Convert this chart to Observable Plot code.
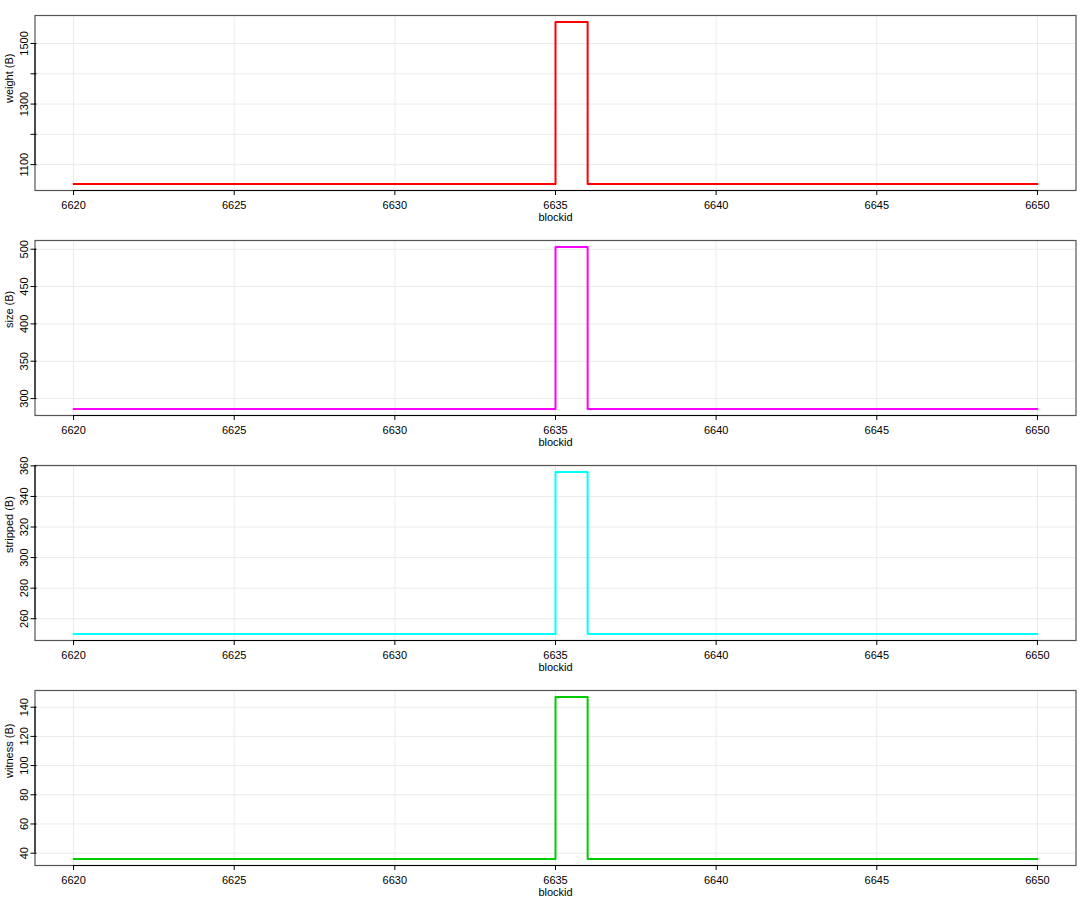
<!DOCTYPE html>
<html>
<head>
<meta charset="utf-8">
<script src="https://cdn.jsdelivr.net/npm/d3@7"></script>
<script src="https://cdn.jsdelivr.net/npm/@observablehq/plot@0.6"></script>
<style>
  html, body { margin: 0; padding: 0; background: #fff; }
  #chart svg { display: block; }
</style>
</head>
<body>
<div id="chart"></div>
<script>
const blockid = [6620, 6621, 6622, 6623, 6624, 6625, 6626, 6627, 6628, 6629,
                 6630, 6631, 6632, 6633, 6634, 6635, 6636, 6637, 6638, 6639,
                 6640, 6641, 6642, 6643, 6644, 6645, 6646, 6647, 6648, 6649, 6650];
const weight   = [1036, 1036, 1036, 1036, 1036, 1036, 1036, 1036, 1036, 1036,
                  1036, 1036, 1036, 1036, 1036, 1571, 1036, 1036, 1036, 1036,
                  1036, 1036, 1036, 1036, 1036, 1036, 1036, 1036, 1036, 1036, 1036];
const size     = [286, 286, 286, 286, 286, 286, 286, 286, 286, 286,
                  286, 286, 286, 286, 286, 503, 286, 286, 286, 286,
                  286, 286, 286, 286, 286, 286, 286, 286, 286, 286, 286];
const stripped = [250, 250, 250, 250, 250, 250, 250, 250, 250, 250,
                  250, 250, 250, 250, 250, 356, 250, 250, 250, 250,
                  250, 250, 250, 250, 250, 250, 250, 250, 250, 250, 250];
const witness  = [36, 36, 36, 36, 36, 36, 36, 36, 36, 36,
                  36, 36, 36, 36, 36, 147, 36, 36, 36, 36,
                  36, 36, 36, 36, 36, 36, 36, 36, 36, 36, 36];

const xTicks = [6620, 6625, 6630, 6635, 6640, 6645, 6650];
const weightTicks = [1100, 1200, 1300, 1400, 1500];
const weightLabels = [1100, 1300, 1500];
const sizeTicks = [300, 350, 400, 450, 500];
const strippedTicks = [260, 280, 300, 320, 340, 360];
const witnessTicks = [40, 60, 80, 100, 120, 140];

const FONT = "'Liberation Sans', Arial, Helvetica, sans-serif";

function panel(values, color, yTicks, yLabels, ylab) {
  const data = blockid.map((b, i) => ({b, v: values[i]}));
  const [lo, hi] = d3.extent(values);
  const pad = (hi - lo) * 0.04;
  const [xl, xh] = d3.extent(blockid);
  const xpad = (xh - xl) * 0.04;
  return Plot.plot({
    width: 1085, height: 225,
    marginTop: 15, marginBottom: 35, marginLeft: 34.5, marginRight: 9.5,
    style: {fontFamily: FONT, fontSize: "11px", color: "#000", background: "#fff"},
    x: {domain: [xl - xpad, xh + xpad]},
    y: {domain: [lo - pad, hi + pad]},
    marks: [
      Plot.gridX(xTicks, {stroke: "#ebebeb", strokeOpacity: 1}),
      Plot.gridY(yTicks, {stroke: "#ebebeb", strokeOpacity: 1}),
      Plot.line(data, {x: "b", y: "v", curve: "step-after", stroke: color, strokeWidth: 2}),
      Plot.frame({stroke: "#555", strokeWidth: 1.2}),
      Plot.axisX(xTicks, {tickSize: 5, tickPadding: 5.5, label: null, stroke: "#000",
        tickFormat: d => String(d)}),
      Plot.axisY(yTicks, {tickSize: 6, tickRotate: -90, tickPadding: 3, dx: 2, label: null, stroke: "#000",
        tickFormat: d => yLabels.includes(d) ? String(d) : ""}),
      Plot.ruleY([lo - pad], {x1: xTicks[0], x2: xTicks[xTicks.length - 1], stroke: "#000"}),
      Plot.ruleX([xl - xpad], {y1: yTicks[0], y2: yTicks[yTicks.length - 1], stroke: "#000"}),
      Plot.text([ylab], {text: d => d, frameAnchor: "left", dx: -25.5, rotate: -90, fill: "#000"}),
      Plot.text(["blockid"], {text: d => d, frameAnchor: "bottom", dy: 30, fill: "#000"})
    ]
  });
}

const chart = document.getElementById("chart");
chart.append(
  panel(weight, "#ff0000", weightTicks, weightLabels, "weight (B)"),
  panel(size, "#ff00ff", sizeTicks, sizeTicks, "size (B)"),
  panel(stripped, "#00ffff", strippedTicks, strippedTicks, "stripped (B)"),
  panel(witness, "#00cd00", witnessTicks, witnessTicks, "witness (B)")
);
</script>
</body>
</html>
